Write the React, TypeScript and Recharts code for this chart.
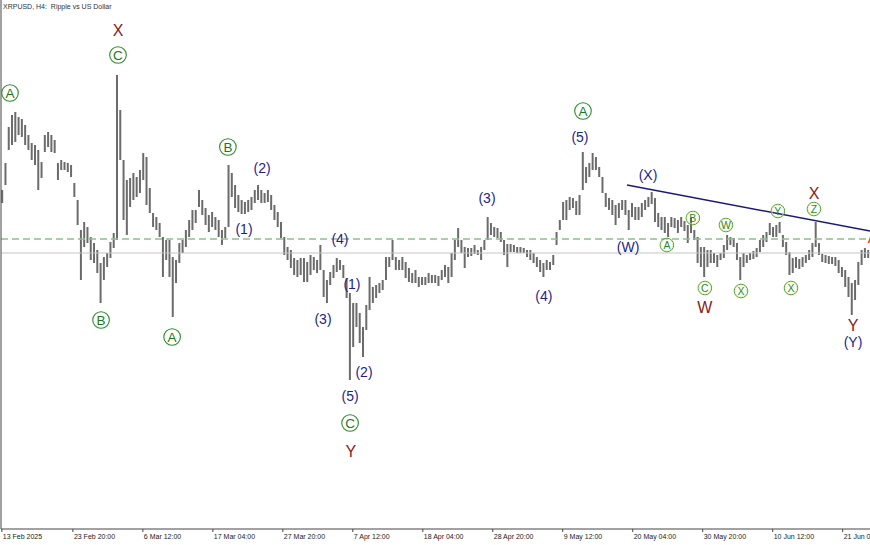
import React from 'react';
import { ComposedChart, Bar, XAxis, YAxis, ReferenceLine, ReferenceDot } from 'recharts';

// XRPUSD H4, one sample every 12 hours from 13 Feb 2025 00:00 (high / low of the period)
const STEP_HOURS = 12;

const highs = [
  2.450, 2.585, 2.765, 2.825, 2.840, 2.815, 2.805, 2.775, 2.725, 2.685,
  2.675, 2.650, 2.590, 2.725, 2.740, 2.725, 2.700, 2.585, 2.600, 2.590,
  2.585, 2.575, 2.485, 2.400, 2.250, 2.290, 2.265, 2.215, 2.185, 2.150,
  2.085, 2.115, 2.135, 2.190, 2.235, 3.025, 2.850, 2.600, 2.500, 2.510,
  2.535, 2.515, 2.550, 2.635, 2.615, 2.460, 2.335, 2.315, 2.285, 2.215,
  2.200, 2.200, 2.115, 2.100, 2.185, 2.200, 2.250, 2.300, 2.350, 2.350,
  2.450, 2.400, 2.360, 2.325, 2.340, 2.315, 2.300, 2.250, 2.265, 2.575,
  2.535, 2.475, 2.425, 2.400, 2.390, 2.400, 2.415, 2.450, 2.475, 2.450,
  2.435, 2.450, 2.425, 2.375, 2.340, 2.290, 2.215, 2.165, 2.150, 2.110,
  2.100, 2.110, 2.110, 2.090, 2.125, 2.115, 2.100, 2.175, 2.050, 2.000,
  2.040, 2.075, 2.110, 2.100, 2.075, 2.010, 1.935, 1.885, 1.885, 1.835,
  1.765, 1.875, 2.015, 1.965, 1.975, 1.985, 2.000, 2.115, 2.115, 2.200,
  2.115, 2.100, 2.115, 2.090, 2.060, 2.035, 2.050, 2.015, 2.015, 2.015,
  2.035, 2.025, 2.025, 2.020, 2.050, 2.075, 2.065, 2.135, 2.200, 2.260,
  2.200, 2.165, 2.160, 2.160, 2.175, 2.150, 2.165, 2.200, 2.315, 2.285,
  2.265, 2.260, 2.240, 2.200, 2.180, 2.180, 2.175, 2.165, 2.165, 2.160,
  2.150, 2.150, 2.135, 2.115, 2.100, 2.085, 2.100, 2.090, 2.125, 2.240,
  2.300, 2.390, 2.400, 2.415, 2.410, 2.395, 2.425, 2.640, 2.565, 2.585,
  2.635, 2.615, 2.565, 2.515, 2.435, 2.410, 2.400, 2.375, 2.385, 2.400,
  2.400, 2.350, 2.385, 2.365, 2.365, 2.385, 2.400, 2.415, 2.440, 2.410,
  2.335, 2.315, 2.315, 2.285, 2.315, 2.310, 2.300, 2.315, 2.295, 2.275,
  2.310, 2.250, 2.215, 2.165, 2.165, 2.150, 2.150, 2.135, 2.125, 2.135,
  2.175, 2.225, 2.215, 2.210, 2.185, 2.115, 2.135, 2.125, 2.135, 2.145,
  2.160, 2.200, 2.225, 2.240, 2.285, 2.265, 2.275, 2.290, 2.225, 2.190,
  2.140, 2.110, 2.115, 2.105, 2.115, 2.125, 2.150, 2.185, 2.290, 2.185,
  2.130, 2.125, 2.120, 2.115, 2.115, 2.100, 2.065, 2.050, 2.015, 1.985,
  2.000, 2.090, 2.150, 2.160, 2.150,
];

const lows = [
  2.385, 2.475, 2.650, 2.675, 2.690, 2.725, 2.715, 2.675, 2.650, 2.600,
  2.575, 2.450, 2.510, 2.640, 2.665, 2.640, 2.635, 2.500, 2.550, 2.550,
  2.540, 2.515, 2.415, 2.275, 2.000, 2.165, 2.185, 2.100, 2.085, 2.035,
  1.885, 2.000, 2.065, 2.110, 2.160, 2.200, 2.600, 2.300, 2.225, 2.365,
  2.400, 2.415, 2.435, 2.500, 2.375, 2.335, 2.265, 2.250, 2.215, 2.015,
  2.100, 2.015, 1.815, 1.985, 2.085, 2.135, 2.165, 2.215, 2.250, 2.285,
  2.365, 2.325, 2.275, 2.240, 2.265, 2.250, 2.215, 2.175, 2.210, 2.265,
  2.415, 2.360, 2.340, 2.330, 2.330, 2.340, 2.350, 2.385, 2.400, 2.385,
  2.385, 2.390, 2.350, 2.300, 2.265, 2.210, 2.125, 2.100, 2.060, 2.025,
  2.015, 2.025, 1.990, 1.990, 2.025, 2.050, 2.035, 2.050, 1.915, 1.885,
  1.975, 2.010, 2.040, 2.050, 2.010, 1.910, 1.500, 1.665, 1.765, 1.685,
  1.615, 1.750, 1.850, 1.885, 1.910, 1.935, 1.950, 2.000, 2.065, 2.100,
  2.050, 2.050, 2.050, 2.010, 1.990, 1.985, 1.985, 1.965, 1.975, 1.975,
  1.985, 1.985, 1.985, 1.970, 2.000, 2.015, 1.985, 2.015, 2.100, 2.165,
  2.135, 2.060, 2.115, 2.120, 2.130, 2.125, 2.100, 2.150, 2.200, 2.225,
  2.215, 2.210, 2.190, 2.125, 2.065, 2.140, 2.140, 2.135, 2.135, 2.135,
  2.115, 2.100, 2.085, 2.065, 2.040, 2.015, 2.050, 2.050, 2.075, 2.175,
  2.250, 2.300, 2.300, 2.350, 2.360, 2.325, 2.325, 2.450, 2.485, 2.515,
  2.550, 2.550, 2.515, 2.435, 2.365, 2.350, 2.325, 2.275, 2.310, 2.350,
  2.325, 2.250, 2.315, 2.300, 2.300, 2.315, 2.350, 2.365, 2.380, 2.290,
  2.265, 2.250, 2.235, 2.215, 2.265, 2.260, 2.235, 2.265, 2.245, 2.185,
  2.235, 2.200, 2.085, 2.065, 2.015, 2.065, 2.085, 2.085, 2.065, 2.100,
  2.110, 2.150, 2.175, 2.165, 2.100, 2.000, 2.065, 2.085, 2.100, 2.105,
  2.115, 2.140, 2.165, 2.190, 2.225, 2.215, 2.215, 2.235, 2.165, 2.125,
  2.025, 2.035, 2.060, 2.055, 2.065, 2.085, 2.100, 2.115, 2.165, 2.125,
  2.090, 2.085, 2.080, 2.080, 2.070, 2.035, 2.015, 1.965, 1.915, 1.825,
  1.900, 1.975, 2.075, 2.110, 2.110,
];

// hours since 13 Feb 2025 00:00
const tickHours = [0, 260, 516, 772, 1028, 1284, 1540, 1796, 2052, 2308, 2564, 2820, 3076];
const tickLabels = [
  '13 Feb 2025', '23 Feb 20:00', '6 Mar 12:00', '17 Mar 04:00', '27 Mar 20:00',
  '7 Apr 12:00', '18 Apr 04:00', '28 Apr 20:00', '9 May 12:00', '20 May 04:00',
  '30 May 20:00', '10 Jun 12:00', '21 Jun 04:00',
];

const greenLevel = 2.205;
const greyLevel = 2.135;
const trendLine = [
  { x: 2287, y: 2.475 },
  { x: 3176, y: 2.245 },
];

// wave marks: big / small circled, bracketed, red
const waveLabels = [
  { text: 'A', t: 30, p: 2.935, kind: 'big' },
  { text: 'X', t: 425, p: 3.25, kind: 'red' },
  { text: 'C', t: 425, p: 3.125, kind: 'big' },
  { text: 'B', t: 363, p: 1.8, kind: 'big' },
  { text: 'A', t: 623, p: 1.715, kind: 'big' },
  { text: 'B', t: 827, p: 2.665, kind: 'big' },
  { text: '(2)', t: 952, p: 2.56, kind: 'paren' },
  { text: '(1)', t: 886, p: 2.255, kind: 'paren' },
  { text: '(4)', t: 1237, p: 2.205, kind: 'paren' },
  { text: '(3)', t: 1175, p: 1.805, kind: 'paren' },
  { text: '(1)', t: 1281, p: 1.98, kind: 'paren' },
  { text: '(2)', t: 1325, p: 1.54, kind: 'paren' },
  { text: '(5)', t: 1274, p: 1.42, kind: 'paren' },
  { text: 'C', t: 1274, p: 1.285, kind: 'big' },
  { text: 'Y', t: 1277, p: 1.145, kind: 'red' },
  { text: '(3)', t: 1775, p: 2.41, kind: 'paren' },
  { text: '(4)', t: 1983, p: 1.92, kind: 'paren' },
  { text: 'A', t: 2126, p: 2.845, kind: 'big' },
  { text: '(5)', t: 2115, p: 2.715, kind: 'paren' },
  { text: '(X)', t: 2364, p: 2.525, kind: 'paren' },
  { text: '(W)', t: 2291, p: 2.165, kind: 'paren' },
  { text: 'A', t: 2433, p: 2.175, kind: 'small' },
  { text: 'B', t: 2528, p: 2.31, kind: 'small' },
  { text: 'C', t: 2572, p: 1.96, kind: 'small' },
  { text: 'W', t: 2572, p: 1.865, kind: 'red' },
  { text: 'W', t: 2649, p: 2.275, kind: 'small' },
  { text: 'X', t: 2704, p: 1.945, kind: 'small' },
  { text: 'Y', t: 2839, p: 2.345, kind: 'small' },
  { text: 'X', t: 2887, p: 1.96, kind: 'small' },
  { text: 'Z', t: 2971, p: 2.355, kind: 'small' },
  { text: 'X', t: 2971, p: 2.435, kind: 'red' },
  { text: 'Y', t: 3114, p: 1.775, kind: 'red' },
  { text: '(Y)', t: 3114, p: 1.69, kind: 'paren' },
  { text: 'A', t: 3187, p: 2.215, kind: 'edge' },
];

const data = highs.map((h, i) => ({ t: i * STEP_HOURS, range: [lows[i], h] }));

const FONT = '"Liberation Sans", Arial, sans-serif';

const AxisTick = ({ x, y, payload }: any) => {
  const idx = tickHours.indexOf(payload.value);
  return (
    <text x={x + 1} y={y + 5} fontSize={7} fill="#222" fontFamily={FONT}>
      {tickLabels[idx]}
    </text>
  );
};

const WaveMark = ({ cx, cy, text, kind }: any) => {
  if (kind === 'big') {
    return (
      <g>
        <circle cx={cx} cy={cy} r={8.3} fill="none" stroke="#2a8c2a" strokeWidth={1.1} />
        <text x={cx} y={cy + 4.8} textAnchor="middle" fontSize={13.5} fill="#1a7a1a" fontFamily={FONT}>
          {text}
        </text>
      </g>
    );
  }
  if (kind === 'small') {
    return (
      <g>
        <circle cx={cx} cy={cy} r={6.8} fill="none" stroke="#4f9f2f" strokeWidth={1} />
        <circle cx={cx} cy={cy} r={5.9} fill="none" stroke="#dfe88a" strokeWidth={0.6} />
        <text x={cx} y={cy + 3.9} textAnchor="middle" fontSize={10.5} fill="#1f8a1f" fontFamily={FONT}>
          {text}
        </text>
      </g>
    );
  }
  if (kind === 'paren') {
    return (
      <text x={cx} y={cy + 5} textAnchor="middle" fontSize={14} fill="#1e1e8c" fontFamily={FONT}>
        {text}
      </text>
    );
  }
  return (
    <text
      x={cx}
      y={cy + 5.7}
      textAnchor="middle"
      fontSize={16}
      fill={kind === 'edge' ? '#c8401a' : '#8b1a1a'}
      fontFamily={FONT}
    >
      {text}
    </text>
  );
};

export default function App() {
  return (
    <div style={{ position: 'absolute', left: 0, top: 0, width: 870, height: 545, background: '#fff' }}>
      <ComposedChart
        width={870}
        height={545}
        data={data}
        margin={{ top: 0, right: 0, bottom: 0, left: 0 }}
      >
        <XAxis
          dataKey="t"
          type="number"
          domain={[-3, 3176]}
          ticks={tickHours}
          tick={<AxisTick />}
          tickSize={3}
          tickLine={{ stroke: '#444' }}
          axisLine={{ stroke: '#444' }}
          height={16}
          interval={0}
          allowDataOverflow
        />
        <YAxis
          type="number"
          domain={[0.755, 3.4]}
          width={1}
          tick={false}
          tickLine={false}
          axisLine={{ stroke: '#444' }}
          allowDataOverflow
        />
        <ReferenceLine y={greyLevel} stroke="#c4c4c4" strokeWidth={1} />
        <ReferenceLine y={greenLevel} stroke="#8cc08c" strokeWidth={1.5} strokeDasharray="7 4" />
        <Bar dataKey="range" fill="#6b6b6b" barSize={2} isAnimationActive={false} />
        <ReferenceLine segment={trendLine} stroke="#1a1a7a" strokeWidth={1.4} ifOverflow="visible" />
        {waveLabels.map((l, i) => (
          <ReferenceDot
            key={i}
            x={l.t}
            y={l.p}
            r={0}
            ifOverflow="visible"
            shape={(props: any) => <WaveMark {...props} text={l.text} kind={l.kind} />}
          />
        ))}
      </ComposedChart>
      <div
        style={{
          position: 'absolute',
          left: 3,
          top: 3,
          fontSize: 7,
          lineHeight: 1,
          color: '#333',
          fontFamily: FONT,
          whiteSpace: 'pre',
        }}
      >
        {'XRPUSD, H4:  Ripple vs US Dollar'}
      </div>
    </div>
  );
}
